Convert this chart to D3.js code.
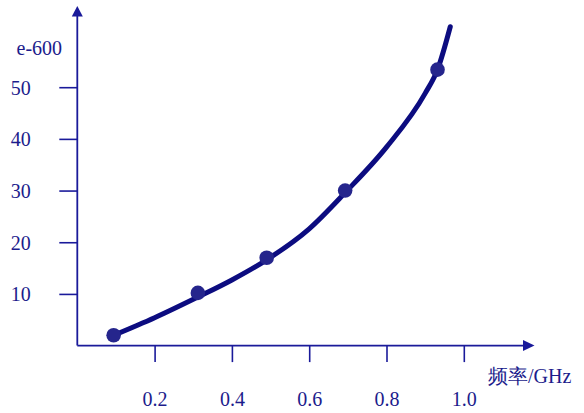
<!DOCTYPE html>
<html>
<head>
<meta charset="utf-8">
<script src="https://cdn.jsdelivr.net/npm/d3@7"></script>
<style>
  html, body { margin: 0; padding: 0; background: #fff; }
  svg { display: block; }
  text { font-family: "Liberation Serif", "Times New Roman", serif; fill: #1c1c8c; }
</style>
</head>
<body>
<svg id="chart" width="584" height="413"></svg>
<script>
// ---- data ----
const xTicks = [0.2, 0.4, 0.6, 0.8, 1.0];
const xTickLabels = ["0.2", "0.4", "0.6", "0.8", "1.0"];
const yTicks = [10, 20, 30, 40, 50];
const yTickLabels = ["10", "20", "30", "40", "50"];
const pointX = [0.094, 0.312, 0.49, 0.693, 0.932];
const pointY = [2.0, 10.2, 17.0, 30.0, 53.4];
const curveX = [0.094, 0.2, 0.312, 0.4, 0.49, 0.6, 0.693, 0.8, 0.9, 0.932, 0.965];
const curveY = [2.0, 5.4, 9.4, 12.7, 16.6, 22.6, 29.6, 38.4, 48.8, 53.4, 61.7];
const yTitle = "e-600";
const xTitle = "频率/GHz";

const svg = d3.select("#chart");
const axisColor = "#1a1a9a";
const lineColor = "#0c0c80";
const dotColor = "#25258c";

const x = d3.scaleLinear().domain([0, 1]).range([77.3, 463.8]);
const y = d3.scaleLinear().domain([0, 50]).range([345.6, 87.2]);

// y axis ticks
const gy = svg.append("g").attr("transform", `translate(${x(0)},0)`)
  .call(d3.axisLeft(y).tickValues(yTicks).tickSize(18).tickSizeOuter(0)
    .tickFormat((d, i) => yTickLabels[i]));
gy.select(".domain").remove();
gy.selectAll(".tick line").attr("stroke", axisColor).attr("stroke-width", 1.6);
gy.selectAll(".tick text").attr("x", -46.5).attr("dy", "0.35em")
  .attr("font-size", 20).attr("fill", "#1c1c8c")
  .attr("font-family", "'Liberation Serif', serif");

// x axis ticks
const gx = svg.append("g").attr("transform", `translate(0,${y(0)})`)
  .call(d3.axisBottom(x).tickValues(xTicks).tickSize(16.5).tickSizeOuter(0)
    .tickFormat((d, i) => xTickLabels[i]));
gx.select(".domain").remove();
gx.selectAll(".tick line").attr("stroke", axisColor).attr("stroke-width", 1.6);
gx.selectAll(".tick text").attr("y", 60.5).attr("dy", null)
  .attr("font-size", 20).attr("fill", "#1c1c8c")
  .attr("font-family", "'Liberation Serif', serif");

// axis lines with arrows
const ax0 = x(0), ay0 = y(0);
svg.append("line").attr("x1", ax0).attr("y1", ay0).attr("x2", ax0).attr("y2", 14)
  .attr("stroke", axisColor).attr("stroke-width", 1.8);
svg.append("path").attr("d", `M${ax0},6 L${ax0 - 5.5},16.5 L${ax0 + 5.5},16.5 Z`).attr("fill", axisColor);
svg.append("line").attr("x1", ax0).attr("y1", ay0).attr("x2", 526).attr("y2", ay0)
  .attr("stroke", axisColor).attr("stroke-width", 1.8);
svg.append("path").attr("d", `M534.5,${ay0} L523,${ay0 - 5.5} L523,${ay0 + 5.5} Z`).attr("fill", axisColor);

// titles
svg.append("text").attr("x", 16.5).attr("y", 55).attr("font-size", 20).text(yTitle);
svg.append("text").attr("x", 488).attr("y", 383).attr("font-size", 20)
  .attr("font-family", "'Noto Serif CJK SC', 'Liberation Serif', 'Noto Sans CJK SC', serif")
  .text(xTitle);

// curve
const curveData = curveX.map((v, i) => [v, curveY[i]]);
const line = d3.line().x(d => x(d[0])).y(d => y(d[1])).curve(d3.curveMonotoneX);
svg.append("path").datum(curveData).attr("d", line)
  .attr("fill", "none").attr("stroke", lineColor).attr("stroke-width", 5)
  .attr("stroke-linecap", "round");

// points
const pts = pointX.map((v, i) => [v, pointY[i]]);
svg.append("g").selectAll("circle").data(pts).join("circle")
  .attr("cx", d => x(d[0])).attr("cy", d => y(d[1])).attr("r", 7.3)
  .attr("fill", dotColor);
</script>
</body>
</html>
